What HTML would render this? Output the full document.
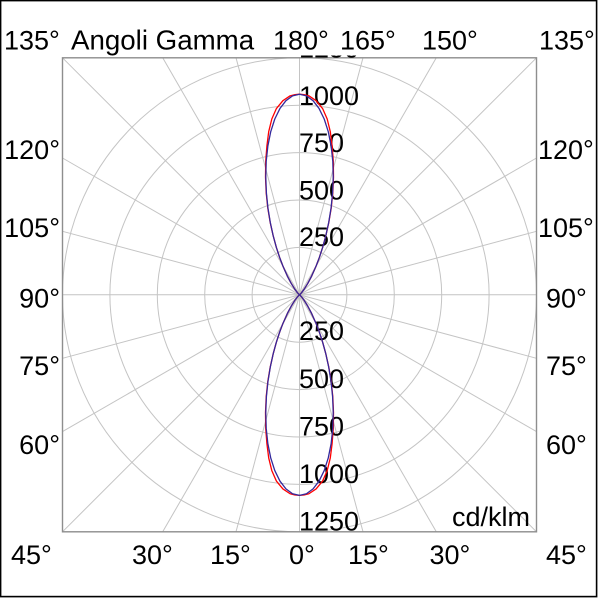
<!DOCTYPE html>
<html><head><meta charset="utf-8"><style>
html,body{margin:0;padding:0;background:#fff;width:600px;height:600px;overflow:hidden;}
svg{display:block;}
text{font-family:"Liberation Sans",Arial,sans-serif;font-size:27px;fill:#000;}
</style></head><body>
<svg width="600" height="600" viewBox="0 0 600 600" xmlns="http://www.w3.org/2000/svg">
<defs>
<clipPath id="box2"><rect x="62.5" y="55.5" width="474" height="477"/></clipPath>
</defs>
<rect x="0" y="0" width="600" height="600" fill="#fff"/>
<rect x="0.6" y="0.6" width="596" height="596" fill="none" stroke="#000" stroke-width="1.6"/>

<g stroke="#c4c4c4" stroke-width="1" fill="none" transform="translate(299.5,294.8)">
<circle r="47.4"/><circle r="94.8"/><circle r="142.2"/><circle r="189.6"/><circle r="237"/>
<line x1="0" y1="-237" x2="0" y2="237"/>
<line x1="-63.5" y1="-237" x2="63.5" y2="237"/>
<line x1="-136.8" y1="-237" x2="136.8" y2="237"/>
<line x1="-237" y1="-237" x2="237" y2="237"/>
<line x1="-237" y1="-136.8" x2="237" y2="136.8"/>
<line x1="-237" y1="-63.5" x2="237" y2="63.5"/>
<line x1="-237" y1="0" x2="237" y2="0"/>
<line x1="-237" y1="63.5" x2="237" y2="-63.5"/>
<line x1="-237" y1="136.8" x2="237" y2="-136.8"/>
<line x1="-237" y1="237" x2="237" y2="-237"/>
<line x1="-136.8" y1="237" x2="136.8" y2="-237"/>
<line x1="-63.5" y1="237" x2="63.5" y2="-237"/>
</g>
<rect x="62.5" y="57.8" width="474" height="474" fill="none" stroke="#8e8e8e" stroke-width="1.4"/>

<!-- radial labels -->
<g clip-path="url(#box2)">
<text x="299" y="57.5">1250</text>
<text x="299" y="105">1000</text>
<text x="299" y="152">750</text>
<text x="299" y="199.5">500</text>
<text x="299" y="246">250</text>
<text x="299" y="340">250</text>
<text x="299" y="388">500</text>
<text x="299" y="435.5">750</text>
<text x="299" y="483">1000</text>
<text x="299" y="530.5">1250</text>
</g>
<text x="452" y="526">cd/klm</text>

<!-- top row -->
<text x="4" y="49.5">135°</text>
<text x="71" y="49.5" style="font-size:27.7px">Angoli Gamma</text>
<text x="273" y="49.5">180°</text>
<text x="340" y="49.5">165°</text>
<text x="422" y="49.5">150°</text>
<text x="539" y="49.5">135°</text>

<!-- left column -->
<g text-anchor="end">
<text x="60" y="159">120°</text>
<text x="60" y="237">105°</text>
<text x="60" y="307.5">90°</text>
<text x="60" y="375">75°</text>
<text x="60" y="454">60°</text>
</g>
<!-- right column -->
<text x="538" y="159">120°</text>
<text x="538" y="237">105°</text>
<text x="546" y="307.5">90°</text>
<text x="546" y="375">75°</text>
<text x="546" y="454">60°</text>

<!-- bottom row -->
<text x="11" y="564">45°</text>
<text x="132" y="564">30°</text>
<text x="210" y="564">15°</text>
<text x="289" y="564">0°</text>
<text x="348" y="564">15°</text>
<text x="429.5" y="564">30°</text>
<text x="546" y="564">45°</text>

<!-- curves -->
<g transform="translate(299.5,294.8)" fill="none" stroke-width="1.3" stroke-linejoin="round">
<path stroke="#ff0000" d="M0,0 L0.61,-0.51 L1.87,-1.87 L4.61,-5.49 L8.33,-11.47 L12.12,-18.66 L16.62,-28.78 L19.87,-37.37 L23.17,-47.51 L26.35,-59.18 L29.3,-72.29 L31.7,-86.62 L33.3,-101.89 L34.0,-117.68 L33.8,-133.52 L32.6,-148.86 L30.8,-163.14 L27.7,-175.79 L23.1,-186.26 L16.6,-194.11 L9.4,-198.96 L4.5,-200.2 L0,-200.6 L-4.5,-200.2 L-9.4,-198.96 L-16.6,-194.11 L-23.1,-186.26 L-27.7,-175.79 L-30.8,-163.14 L-32.6,-148.86 L-33.8,-133.52 L-34.0,-117.68 L-33.3,-101.89 L-31.7,-86.62 L-29.3,-72.29 L-26.35,-59.18 L-23.17,-47.51 L-19.87,-37.37 L-16.62,-28.78 L-12.12,-18.66 L-8.33,-11.47 L-4.61,-5.49 L-1.87,-1.87 L-0.61,-0.51 Z"/>
<path stroke="#ff0000" transform="scale(1,-1)" d="M0,0 L0.61,-0.51 L1.87,-1.87 L4.61,-5.49 L8.33,-11.47 L12.12,-18.66 L16.62,-28.78 L19.87,-37.37 L23.17,-47.51 L26.35,-59.18 L29.3,-72.29 L31.7,-86.62 L33.3,-101.89 L34.0,-117.68 L33.8,-133.52 L32.6,-148.86 L30.8,-163.14 L27.7,-175.79 L23.1,-186.26 L16.6,-194.11 L9.4,-198.96 L4.5,-200.2 L0,-200.6 L-4.5,-200.2 L-9.4,-198.96 L-16.6,-194.11 L-23.1,-186.26 L-27.7,-175.79 L-30.8,-163.14 L-32.6,-148.86 L-33.8,-133.52 L-34.0,-117.68 L-33.3,-101.89 L-31.7,-86.62 L-29.3,-72.29 L-26.35,-59.18 L-23.17,-47.51 L-19.87,-37.37 L-16.62,-28.78 L-12.12,-18.66 L-8.33,-11.47 L-4.61,-5.49 L-1.87,-1.87 L-0.61,-0.51 Z"/>
<path stroke="#33289c" d="M0,0 L0.61,-0.51 L1.87,-1.87 L4.61,-5.49 L8.33,-11.47 L12.12,-18.66 L16.62,-28.78 L19.87,-37.37 L23.17,-47.51 L26.35,-59.18 L29.21,-72.29 L31.53,-86.62 L33.10,-101.89 L33.74,-117.68 L33.29,-133.52 L31.64,-148.86 L28.77,-163.14 L24.71,-175.79 L19.58,-186.26 L13.57,-194.11 L6.95,-198.96 L0,-200.6 L-6.95,-198.96 L-13.57,-194.11 L-19.58,-186.26 L-24.71,-175.79 L-28.77,-163.14 L-31.64,-148.86 L-33.29,-133.52 L-33.74,-117.68 L-33.10,-101.89 L-31.53,-86.62 L-29.21,-72.29 L-26.35,-59.18 L-23.17,-47.51 L-19.87,-37.37 L-16.62,-28.78 L-12.12,-18.66 L-8.33,-11.47 L-4.61,-5.49 L-1.87,-1.87 L-0.61,-0.51 Z"/>
<path stroke="#33289c" transform="scale(1,-1)" d="M0,0 L0.61,-0.51 L1.87,-1.87 L4.61,-5.49 L8.33,-11.47 L12.12,-18.66 L16.62,-28.78 L19.87,-37.37 L23.17,-47.51 L26.35,-59.18 L29.21,-72.29 L31.53,-86.62 L33.10,-101.89 L33.74,-117.68 L33.29,-133.52 L31.64,-148.86 L28.77,-163.14 L24.71,-175.79 L19.58,-186.26 L13.57,-194.11 L6.95,-198.96 L0,-200.6 L-6.95,-198.96 L-13.57,-194.11 L-19.58,-186.26 L-24.71,-175.79 L-28.77,-163.14 L-31.64,-148.86 L-33.29,-133.52 L-33.74,-117.68 L-33.10,-101.89 L-31.53,-86.62 L-29.21,-72.29 L-26.35,-59.18 L-23.17,-47.51 L-19.87,-37.37 L-16.62,-28.78 L-12.12,-18.66 L-8.33,-11.47 L-4.61,-5.49 L-1.87,-1.87 L-0.61,-0.51 Z"/>
</g>
</svg>
</body></html>
